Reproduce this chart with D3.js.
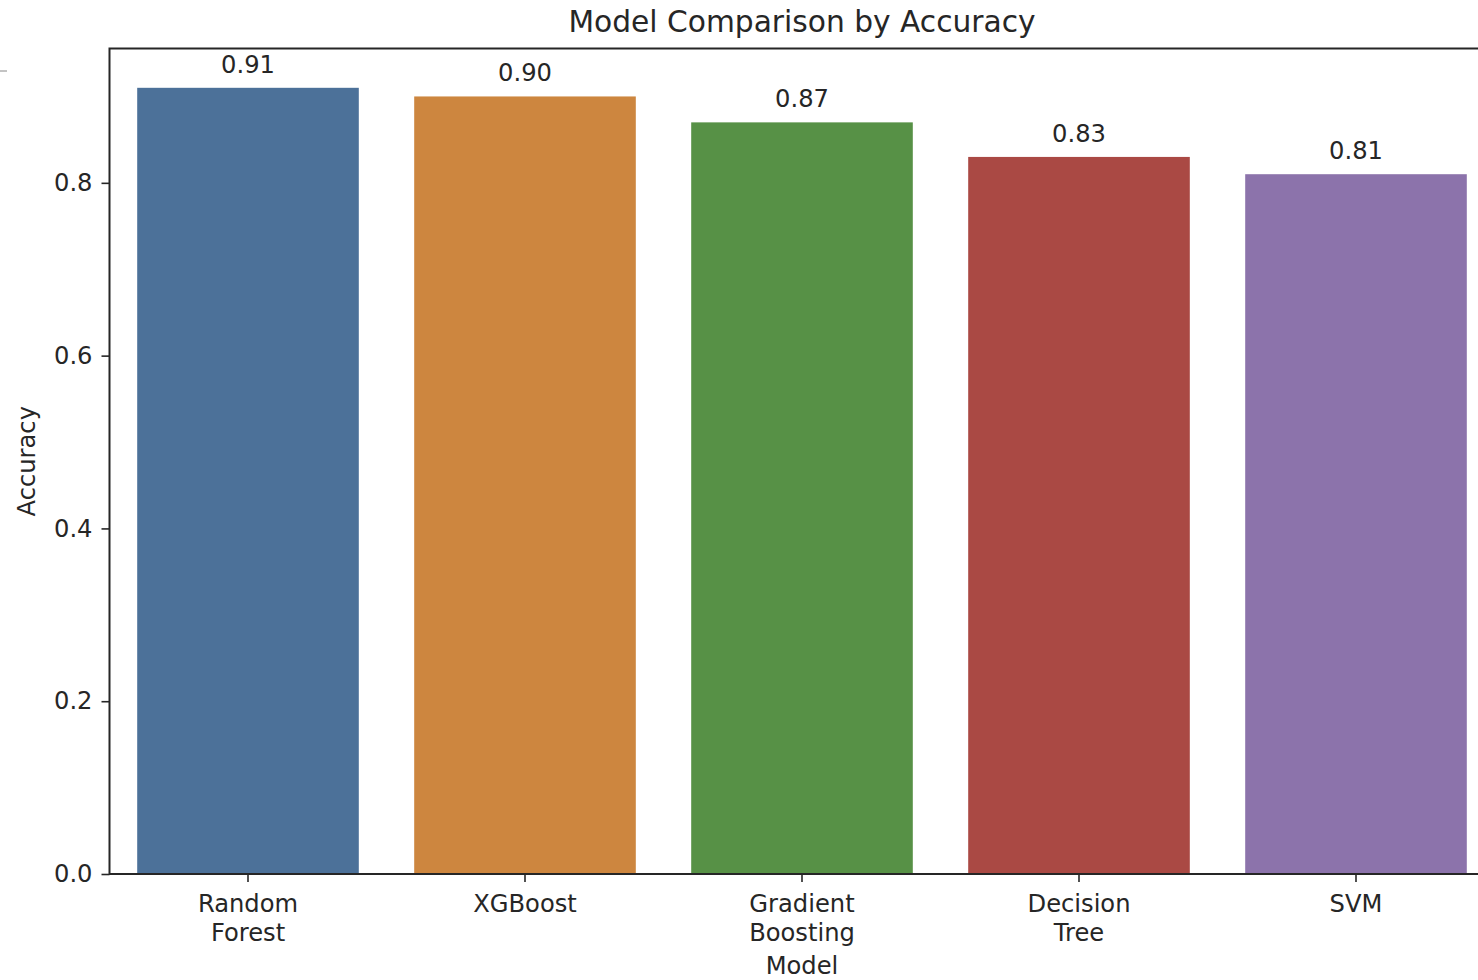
<!DOCTYPE html>
<html>
<head>
<meta charset="utf-8">
<script src="https://cdn.jsdelivr.net/npm/d3@7"></script>
<style>
  html, body { margin: 0; padding: 0; background: #fff; overflow: hidden; }
  svg { display: block; font-family: "DejaVu Sans", sans-serif; }
</style>
</head>
<body>
<svg id="chart" width="1478" height="980"></svg>
<script>
// Model accuracy data
const models = ["Random Forest", "XGBoost", "Gradient Boosting", "Decision Tree", "SVM"];
const accuracy = [0.91, 0.90, 0.87, 0.83, 0.81];
const barColors = ["#4c7199", "#cd863f", "#579146", "#aa4944", "#8c73ab"];
const yTicks = [0.0, 0.2, 0.4, 0.6, 0.8];

const svg = d3.select("#chart");
const plotLeft = 109.5, plotRight = 1494.5, plotTop = 48.5, plotBottom = 874;
const ink = "#262626";
const fs = 24.2;

const x = d3.scaleBand().domain(models).range([plotLeft, plotRight]).paddingInner(0.2).paddingOuter(0.1);
const y = d3.scaleLinear().domain([0, d3.max(accuracy) * 1.05]).range([plotBottom, plotTop]);

// Bars
svg.append("g").selectAll("rect").data(models).join("rect")
  .attr("x", d => x(d))
  .attr("width", x.bandwidth())
  .attr("y", (d, i) => y(accuracy[i]))
  .attr("height", (d, i) => plotBottom - y(accuracy[i]))
  .attr("fill", (d, i) => barColors[i]);

// Value labels above bars
svg.append("g").selectAll("text").data(models).join("text")
  .attr("x", d => x(d) + x.bandwidth() / 2)
  .attr("y", (d, i) => y(accuracy[i]) - 15)
  .attr("text-anchor", "middle")
  .attr("font-size", fs)
  .attr("fill", ink)
  .text((d, i) => d3.format(".2f")(accuracy[i]));

// Y axis
const yAxis = d3.axisLeft(y).tickValues(yTicks).tickFormat(d3.format(".1f")).tickSize(8).tickPadding(9);
const gy = svg.append("g").attr("transform", `translate(${plotLeft},0)`).call(yAxis);
gy.select(".domain").remove();
gy.selectAll(".tick line").attr("stroke", ink).attr("stroke-width", 1.6);
gy.selectAll(".tick text").attr("font-size", fs).attr("fill", ink)
  .attr("font-family", "DejaVu Sans");

// X axis with wrapped category labels
const xAxis = d3.axisBottom(x).tickSize(8).tickSizeOuter(0).tickFormat("");
const gx = svg.append("g").attr("transform", `translate(0,${plotBottom})`).call(xAxis);
gx.select(".domain").remove();
gx.selectAll(".tick line").attr("stroke", ink).attr("stroke-width", 1.6);
gx.selectAll(".tick").each(function(d) {
  const words = d.split(" ");
  const t = d3.select(this).append("text")
    .attr("text-anchor", "middle")
    .attr("font-size", fs)
    .attr("font-family", "DejaVu Sans")
    .attr("fill", ink);
  words.forEach((w, k) => t.append("tspan").attr("x", 0).attr("y", 38 + k * 28.5).text(w));
});

// Frame: left, top and bottom spines
svg.append("path")
  .attr("d", `M${plotRight},${plotTop}H${plotLeft}V${plotBottom}H${plotRight}`)
  .attr("fill", "none").attr("stroke", ink).attr("stroke-width", 2);

// Title and axis titles
svg.append("text").attr("x", (plotLeft + plotRight) / 2).attr("y", 32)
  .attr("text-anchor", "middle").attr("font-size", 29.7).attr("fill", ink)
  .text("Model Comparison by Accuracy");
svg.append("text").attr("x", (plotLeft + plotRight) / 2).attr("y", 974)
  .attr("text-anchor", "middle").attr("font-size", fs).attr("fill", ink)
  .text("Model");
svg.append("text")
  .attr("transform", `translate(35,${(plotTop + plotBottom) / 2}) rotate(-90)`)
  .attr("text-anchor", "middle").attr("font-size", fs).attr("fill", ink)
  .text("Accuracy");

// Short gray rule at the left edge
svg.append("line").attr("x1", 0).attr("x2", 7).attr("y1", 71).attr("y2", 71)
  .attr("stroke", "#888").attr("stroke-width", 1);
</script>
</body>
</html>
